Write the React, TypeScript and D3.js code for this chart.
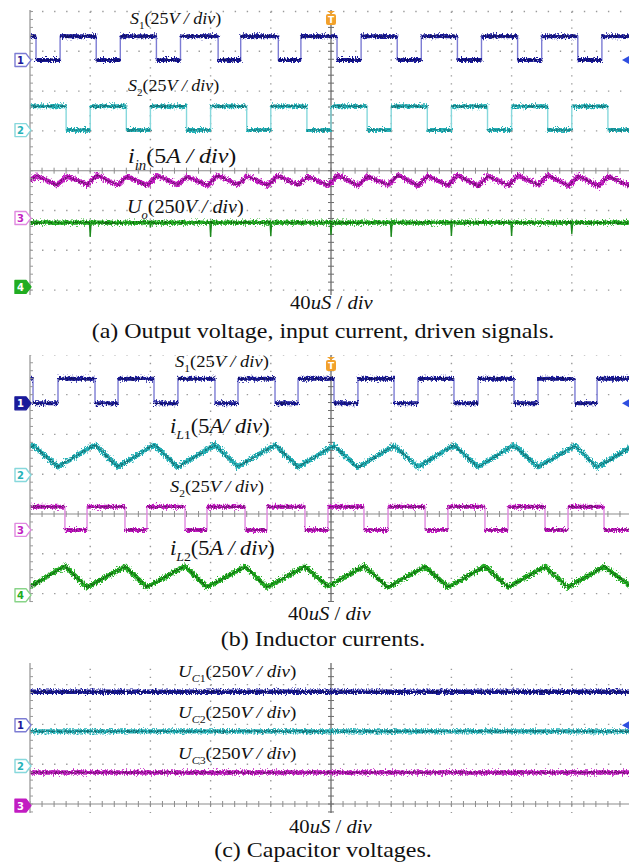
import React from "react";
import * as d3 from "d3";

// ---- values read off the three scope captures ----
// time axis: 10 div x 40 us/div, trigger in the middle
const timeRange = [-200, 200];

// ground markers of each channel, divisions from screen centre
const chOffsetA = [2.78, 1.02, -1.19, -2.92];
const chOffsetB = [2.78, 0.98, -0.4, -2.04];
const chOffsetC = [1.98, 0.955, -0.04];

// (a) gate signals: edge times in us, trace starts high
const s1EdgesA = [-196, -180, -156, -140, -116, -100, -75, -60, -35, -20, 4, 20, 44, 60, 84, 100, 124, 140, 164, 180];
const s2EdgesA = [-176, -160, -136, -120, -96, -80, -56, -40, -16, 0, 24, 40, 64, 80, 104, 120, 144, 160, 184];
const gateLevelsA = [0, 15]; // V
// (a) input current, vertices [us, A]
const iinA: [number, number][] = [
  [-200, 4.75], [-195.5, 5.3], [-182, 4.15], [-175.5, 5.25], [-162, 4.2], [-155.5, 5.4], [-142, 4.15],
  [-135.5, 5.2], [-122, 4.1], [-115.5, 5.35], [-102, 4.2], [-95.5, 5.2], [-82, 4.1], [-75.5, 5.4],
  [-62, 4.2], [-55.5, 5.25], [-42, 4.1], [-35.5, 5.3], [-22, 4.2], [-15.5, 5.2], [-2, 4.1], [4.5, 5.4],
  [18, 4.1], [24.5, 5.25], [38, 4.15], [44.5, 5.4], [58, 4.05], [64, 5.3], [78, 4.1], [84, 5.4],
  [98, 4.0], [104, 5.3], [118, 4.1], [124, 5.35], [138, 4.15], [144, 5.4], [158, 4.05], [164, 5.3],
  [178, 4.0], [184, 5.25], [198, 4.1], [200, 4.3],
];
// (a) output voltage and its switching dips [us, V]
const uoLevelA = 404;
const uoDipsA: [number, number][] = [
  [-160, 90], [-120, 30], [-80, 90], [-40, 85], [0, 78], [40, 90], [80, 84], [120, 84], [160, 71],
];

// (b) gate signals and inductor currents
const s1EdgesB = [-198, -181.4, -156.8, -141.5, -117.6, -101.7, -77.1, -61.8, -37.2, -21.9, 2, 17.9, 41.9, 57.8, 81.7, 97.7, 121.6, 137.5, 162.1, 176.8];
const s2EdgesB = [-176.8, -162.1, -136.9, -122.3, -97, -82.4, -57.1, -42.5, -17.3, -2, 21.9, 37.9, 62.5, 77.7, 102.3, 117.6, 142.2, 157.5, 181.4];
const gateLevelsB = [0, 15.5];
const iL1B: [number, number][] = [
  [-200, 3.5], [-198, 3.75], [-181.4, 1.0], [-156.8, 3.8], [-141.5, 1.0], [-117.6, 3.8], [-101.7, 1.0],
  [-77.1, 3.8], [-61.8, 1.05], [-37.2, 3.8], [-21.9, 1.0], [2, 3.7], [17.9, 0.95], [41.9, 3.7],
  [57.8, 1.0], [81.7, 3.75], [97.7, 1.0], [121.6, 3.75], [137.5, 1.0], [162.1, 3.7], [176.8, 1.0], [200, 3.6],
];
const iL2B: [number, number][] = [
  [-200, 1.05], [-176.8, 3.65], [-162.1, 1.0], [-136.9, 3.6], [-122.3, 1.0], [-97, 3.65], [-82.4, 1.0],
  [-57.1, 3.6], [-42.5, 1.0], [-17.3, 3.6], [-2, 1.1], [21.9, 3.65], [37.9, 1.0], [62.5, 3.6],
  [77.7, 1.0], [102.3, 3.65], [117.6, 1.0], [142.2, 3.6], [157.5, 1.0], [181.4, 3.6], [200, 1.05],
];

// (c) capacitor voltages [V]
const ucLevelsC = [210, 218, 208];

// volts / amps per division
const perDiv = { gate: 25, cur: 5, volt: 250 };

// label texts: [text, style]  n normal, i italic, sn/si subscript
type Part = [string, string];
const labS1: Part[] = [["S", "i"], ["1", "sn"], ["(25", "n"], ["V / div", "i"], [")", "n"]];
const labS2: Part[] = [["S", "i"], ["2", "sn"], ["(25", "n"], ["V / div", "i"], [")", "n"]];
const labIin: Part[] = [["i", "i"], ["in", "si"], ["(5", "n"], ["A / div", "i"], [")", "n"]];
const labUo: Part[] = [["U", "i"], ["o", "si"], ["(250", "n"], ["V / div", "i"], [")", "n"]];
const labIL1: Part[] = [["i", "i"], ["L", "si"], ["1", "sn"], ["(5", "n"], ["A/ div", "i"], [")", "n"]];
const labIL2: Part[] = [["i", "i"], ["L", "si"], ["2", "sn"], ["(5", "n"], ["A / div", "i"], [")", "n"]];
const labUC = (k: string): Part[] => [["U", "i"], ["C", "si"], [k, "sn"], ["(250", "n"], ["V / div", "i"], [")", "n"]];
const labTime: Part[] = [["40", "n"], ["uS", "i"], [" / ", "n"], ["div", "i"]];
const captions = [
  "(a) Output voltage, input current, driven signals.",
  "(b) Inductor currents.",
  "(c) Capacitor voltages.",
];

const colors = ["#1a1a9a", "#26b2b8", "#c21dc2", "#22ad22"];
const lightColors = ["#7c7cd4", "#86d8dc", "#e088e0", "#88d488"];
const darkColors = ["#08084e", "#0d585c", "#560856", "#0c500c"];

// ---- layout ----
const W = 629;
const H = 864;
const X0 = 30;
const DIV_W = 60.2;
const DIV_H = 39.8;
const SX = 1.09;
const serif = "'Liberation Serif', serif";

const xScale = d3.scaleLinear().domain(timeRange).range([X0, X0 + 10 * DIV_W]);

const squarePts = (edges: number[], lo: number, hi: number): [number, number][] => {
  let v = hi;
  const pts: [number, number][] = [[timeRange[0], v]];
  edges.forEach((e) => {
    pts.push([e, v]);
    v = v === hi ? lo : hi;
    pts.push([e, v]);
  });
  pts.push([timeRange[1], v]);
  return pts;
};

const dipPts = (level: number, dips: [number, number][]): [number, number][] => {
  const pts: [number, number][] = [[timeRange[0], level]];
  dips.forEach(([t, d]) => {
    pts.push([t - 0.5, level], [t, level - d], [t + 0.6, level]);
  });
  pts.push([timeRange[1], level]);
  return pts;
};

function Label({ x, y, size, parts, anchor }: { x: number; y: number; size: number; parts: Part[]; anchor?: string }) {
  let inSub = false;
  const sh = size * 0.3;
  return (
    <g transform={`translate(${x},${y}) scale(${SX},1)`}>
      <text style={{ fontFamily: serif }} fontSize={size} fill="#111" textAnchor={anchor || "start"}>
        {parts.map(([t, s], i) => {
          const sub = s[0] === "s";
          let dy = 0;
          if (sub && !inSub) dy = sh;
          if (!sub && inSub) dy = -sh;
          inSub = sub;
          return (
            <tspan key={i} dy={dy || undefined} fontStyle={s.endsWith("i") ? "italic" : "normal"} fontSize={sub ? size * 0.62 : size}>
              {t}
            </tspan>
          );
        })}
      </text>
    </g>
  );
}

function ChMarker({ y, num, filled }: { y: number; num: number; filled: boolean }) {
  const c = colors[num - 1];
  return (
    <g>
      <path d={`M15,${y - 6.5} H26 L31,${y} L26,${y + 6.5} H15 Z`} fill={filled ? c : "#fff"} stroke={filled ? c : lightColors[num - 1]} strokeWidth={1.4} strokeLinejoin="round" />
      <text x={20.5} y={y + 4} textAnchor="middle" style={{ fontFamily: "'DejaVu Sans', sans-serif" }} fontWeight="bold" fontSize={10} fill={filled ? "#fff" : c}>
        {num}
      </text>
    </g>
  );
}

function Trigger({ x, y }: { x: number; y: number }) {
  return (
    <g>
      <path d={`M${x - 4},${y} H${x + 4} L${x},${y + 3} Z`} fill="#f2a12a" />
      <rect x={x - 5} y={y + 3} width={10} height={11} rx={2} fill="#f2a12a" />
      <text x={x} y={y + 12} textAnchor="middle" style={{ fontFamily: "'DejaVu Sans', sans-serif" }} fontWeight="bold" fontSize={9} fill="#fff">T</text>
    </g>
  );
}

type TraceProps = { pts: [number, number][]; toY: (v: number) => number; ch: number; square?: boolean; width?: number };

function Trace({ pts, toY, ch, square, width }: TraceProps) {
  const line = d3.line<[number, number]>().x((d) => xScale(d[0])).y((d) => toY(d[1]));
  const full = line(pts) || "";
  let levels = full;
  if (square) {
    levels = "";
    for (let i = 0; i < pts.length - 1; i++) {
      if (pts[i][1] === pts[i + 1][1] && pts[i][0] !== pts[i + 1][0]) {
        levels += `M${xScale(pts[i][0])},${toY(pts[i][1])}H${xScale(pts[i + 1][0])}`;
      }
    }
  }
  return (
    <g>
      {square && <path d={full} fill="none" stroke={lightColors[ch]} strokeWidth={1.4} />}
      <path d={levels} fill="none" stroke={colors[ch]} strokeWidth={width || 4} filter="url(#fuzzA)" />
      <path d={levels} fill="none" stroke={darkColors[ch]} strokeWidth={1.4} opacity={0.7} filter="url(#fuzzB)" />
    </g>
  );
}

type PanelProps = { id: string; cy: number; top: number; bottom: number; children?: React.ReactNode };

function Grid({ id, cy, top, bottom, children }: PanelProps) {
  const gTop = cy - 4 * DIV_H;
  const xs = d3.range(-5, 6).map((k) => X0 + (k + 5) * DIV_W);
  const rows = d3.range(-4, 5).filter((k) => k !== 0).map((k) => cy - k * DIV_H);
  const minorY = d3.range(0, 41).map((k) => gTop + (k * DIV_H) / 5).filter((y) => y >= top && y <= bottom);
  const minorX = d3.range(0, 51).map((k) => X0 + (k * DIV_W) / 5).filter((x) => x <= W);
  const cx = xScale(0);
  return (
    <g>
      <clipPath id={id}>
        <rect x={X0} y={top} width={W - X0} height={bottom - top} />
      </clipPath>
      <g clipPath={`url(#${id})`}>
        {xs.filter((x) => Math.abs(x - cx) > 1 && x > X0 + 1).map((x, i) => (
          <line key={"v" + i} x1={x} x2={x} y1={gTop} y2={bottom} stroke="#9a9a9a" strokeWidth={1.4} strokeDasharray={`1.4 ${DIV_H / 5 - 1.4}`} />
        ))}
        {rows.map((y, i) => (
          <line key={"h" + i} x1={X0} x2={W} y1={y} y2={y} stroke="#9a9a9a" strokeWidth={1.4} strokeDasharray={`1.4 ${DIV_W / 5 - 1.4}`} />
        ))}
        <line x1={X0} x2={W} y1={cy} y2={cy} stroke="#8c8c8c" strokeWidth={1.1} />
        {minorX.map((x, i) => (
          <line key={"tx" + i} x1={x} x2={x} y1={cy - 3} y2={cy + 3} stroke="#8c8c8c" strokeWidth={1} />
        ))}
        <line x1={cx} x2={cx} y1={top} y2={bottom} stroke="#6c6c6c" strokeWidth={1.3} />
        {minorY.map((y, i) => (
          <line key={"ty" + i} x1={cx - 3} x2={cx + 3} y1={y} y2={y} stroke="#6c6c6c" strokeWidth={1} />
        ))}
        {children}
      </g>
      <line x1={X0} x2={X0} y1={top} y2={bottom} stroke="#9a9a9a" strokeWidth={1.3} />
      {minorY.map((y, i) => (
        <line key={"ly" + i} x1={X0} x2={X0 + 3} y1={y} y2={y} stroke="#9a9a9a" strokeWidth={1} />
      ))}
    </g>
  );
}

const yFor = (cy: number) => d3.scaleLinear().domain([-4, 4]).range([cy + 4 * DIV_H, cy - 4 * DIV_H]);

function GroundArrow({ y }: { y: number }) {
  return <path d={`M629,${y - 4} L622,${y} L629,${y + 4} Z`} fill="#2f4fe0" />;
}

export default function App() {
  const cyA = 170.7;
  const cyB = 514;
  const cyC = 804;
  const yA = yFor(cyA);
  const yB = yFor(cyB);
  const yC = yFor(cyC);
  const chA = (k: number, unit: number) => (v: number) => yA(chOffsetA[k] + v / unit);
  const chB = (k: number, unit: number) => (v: number) => yB(chOffsetB[k] + v / unit);
  const chC = (k: number, unit: number) => (v: number) => yC(chOffsetC[k] + v / unit);

  return (
    <div style={{ position: "absolute", left: 0, top: 0, background: "#fff" }}>
      <svg width={W} height={H} viewBox={`0 0 ${W} ${H}`} style={{ display: "block" }}>
        <defs>
          <filter id="fuzzA" filterUnits="userSpaceOnUse" x={0} y={0} width={W} height={H}>
            <feTurbulence type="fractalNoise" baseFrequency="0.9 0.5" numOctaves={2} seed={3} result="n" />
            <feDisplacementMap in="SourceGraphic" in2="n" scale={7} xChannelSelector="R" yChannelSelector="G" />
          </filter>
          <filter id="fuzzB" filterUnits="userSpaceOnUse" x={0} y={0} width={W} height={H}>
            <feTurbulence type="fractalNoise" baseFrequency="1.1 0.6" numOctaves={2} seed={11} result="n" />
            <feDisplacementMap in="SourceGraphic" in2="n" scale={6} xChannelSelector="R" yChannelSelector="G" />
          </filter>
        </defs>
        <rect width={W} height={H} fill="#fff" />

        {/* (a) */}
        <Grid id="clipA" cy={cyA} top={10} bottom={295}>
          <Trace pts={squarePts(s1EdgesA, gateLevelsA[0], gateLevelsA[1])} toY={chA(0, perDiv.gate)} ch={0} square />
          <Trace pts={squarePts(s2EdgesA, gateLevelsA[0], gateLevelsA[1])} toY={chA(1, perDiv.gate)} ch={1} square />
          <Trace pts={iinA} toY={chA(2, perDiv.cur)} ch={2} width={4.6} />
          <path d={d3.line<[number, number]>().x((d) => xScale(d[0])).y((d) => chA(3, perDiv.volt)(d[1]))(dipPts(uoLevelA, uoDipsA)) || ""} fill="none" stroke="#1c8a1c" strokeWidth={1.3} />
          <Trace pts={[[timeRange[0], uoLevelA], [timeRange[1], uoLevelA]]} toY={chA(3, perDiv.volt)} ch={3} width={4.3} />
        </Grid>
        {chOffsetA.map((o, k) => (
          <ChMarker key={"ma" + k} y={yA(o)} num={k + 1} filled={k === 3} />
        ))}
        <GroundArrow y={yA(chOffsetA[0])} />
        <Trigger x={xScale(0)} y={11} />
        <Label x={130} y={24} size={16.5} parts={labS1} />
        <Label x={128} y={91} size={16.5} parts={labS2} />
        <Label x={128} y={163} size={22} parts={labIin} />
        <Label x={127} y={213} size={18.5} parts={labUo} />
        <Label x={290} y={309} size={19} parts={labTime} />
        <Label x={323} y={338} size={22} parts={[[captions[0], "n"]]} anchor="middle" />

        {/* (b) */}
        <Grid id="clipB" cy={cyB} top={355} bottom={602}>
          <Trace pts={squarePts(s1EdgesB, gateLevelsB[0], gateLevelsB[1])} toY={chB(0, perDiv.gate)} ch={0} square />
          <Trace pts={iL1B} toY={chB(1, perDiv.cur)} ch={1} width={4.6} />
          <Trace pts={squarePts(s2EdgesB, gateLevelsB[0], gateLevelsB[1] - 0.9)} toY={chB(2, perDiv.gate)} ch={2} square />
          <Trace pts={iL2B} toY={chB(3, perDiv.cur)} ch={3} width={4.6} />
        </Grid>
        {chOffsetB.map((o, k) => (
          <ChMarker key={"mb" + k} y={yB(o)} num={k + 1} filled={k === 0} />
        ))}
        <GroundArrow y={yB(chOffsetB[0])} />
        <Trigger x={xScale(0)} y={357} />
        <Label x={175} y={367} size={17} parts={labS1} />
        <Label x={170} y={433} size={20.5} parts={labIL1} />
        <Label x={170} y={492} size={17} parts={labS2} />
        <Label x={170} y={555} size={20.5} parts={labIL2} />
        <Label x={288} y={620} size={19} parts={labTime} />
        <Label x={323} y={646} size={22} parts={[[captions[1], "n"]]} anchor="middle" />

        {/* (c) */}
        <Grid id="clipC" cy={cyC} top={663} bottom={813}>
          {ucLevelsC.map((v, k) => (
            <Trace key={"uc" + k} pts={[[timeRange[0], v], [timeRange[1], v]]} toY={chC(k, perDiv.volt)} ch={k} width={4.3} />
          ))}
        </Grid>
        {chOffsetC.map((o, k) => (
          <ChMarker key={"mc" + k} y={yC(o)} num={k + 1} filled={k === 2} />
        ))}
        <GroundArrow y={yC(chOffsetC[0])} />
        <Label x={178} y={677} size={17.5} parts={labUC("1")} />
        <Label x={178} y={718} size={17.5} parts={labUC("2")} />
        <Label x={178} y={759} size={17.5} parts={labUC("3")} />
        <Label x={289} y={833} size={19} parts={labTime} />
        <Label x={323} y={857} size={22} parts={[[captions[2], "n"]]} anchor="middle" />
      </svg>
    </div>
  );
}
